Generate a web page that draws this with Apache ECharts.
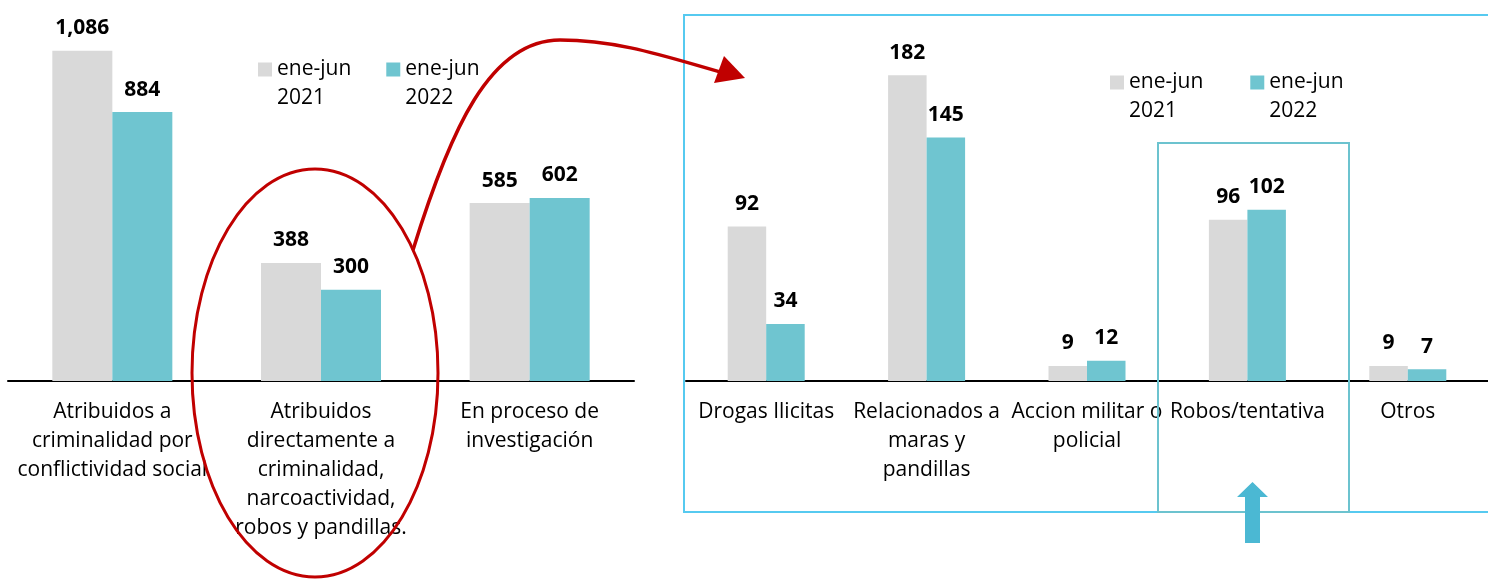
<!DOCTYPE html>
<html>
<head>
<meta charset="utf-8">
<script src="https://cdn.jsdelivr.net/npm/echarts@6/dist/echarts.min.js"></script>
<style>
  html, body { margin: 0; padding: 0; background: #fff; }
  #chart { width: 1488px; height: 579px; }
</style>
</head>
<body>
<div id="chart"></div>
<script>
// datos
const seriesNames = ["ene-jun 2021", "ene-jun 2022"];
const leftCats = [
  "Atribuidos a\ncriminalidad por\nconflictividad social",
  "Atribuidos\ndirectamente a\ncriminalidad,\nnarcoactividad,\nrobos y pandillas.",
  "En proceso de\ninvestigación"
];
const left2021 = [1086, 388, 585];
const left2022 = [884, 300, 602];

const rightCats = [
  "Drogas Ilicitas",
  "Relacionados a\nmaras y\npandillas",
  "Accion militar o\npolicial",
  "Robos/tentativa",
  "Otros"
];
const right2021 = [92, 182, 9, 96, 9];
const right2022 = [34, 145, 12, 102, 7];

const gray = "#d9d9d9";
const teal = "#6fc5d0";
const red = "#c00000";
const font = "Open Sans";

const chart = echarts.init(document.getElementById("chart"));

function valueLabel() {
  return {
    show: true,
    position: "top",
    distance: 12,
    color: "#000",
    fontFamily: font,
    fontWeight: "bold",
    fontSize: 21,
    formatter: (p) => p.value.toLocaleString("en-US")
  };
}

function catAxis(idx, cats) {
  return {
    type: "category",
    gridIndex: idx,
    data: cats,
    axisLine: { lineStyle: { color: "#000", width: 2 } },
    axisTick: { show: false },
    axisLabel: {
      interval: 0,
      margin: 17,
      color: "#000",
      fontFamily: font,
      fontSize: 21,
      lineHeight: 29
    }
  };
}

// el cuadrito queda alineado con la primera linea del texto
function legend(left, top, gap) {
  return {
    left: left,
    top: top,
    padding: 0,
    itemWidth: 14,
    itemHeight: 14,
    itemGap: gap,
    icon: "rect",
    selectedMode: false,
    data: seriesNames,
    formatter: (n) => "\n" + n.replace(" ", "\n"),
    textStyle: {
      color: "#000",
      fontFamily: font,
      fontSize: 21,
      lineHeight: 29
    }
  };
}

const option = {
  animation: false,
  color: [gray, teal],
  legend: [legend(258, 26, 35), legend(1110, 39, 47)],
  grid: [
    { left: 8, width: 626, top: 16, bottom: 198 },
    { left: 686, width: 804, top: 45, bottom: 198 }
  ],
  xAxis: [catAxis(0, leftCats), catAxis(1, rightCats)],
  yAxis: [
    { type: "value", gridIndex: 0, min: 0, max: 1200, show: false, splitLine: { show: false } },
    { type: "value", gridIndex: 1, min: 0, max: 200, show: false, splitLine: { show: false } }
  ],
  series: [
    { name: seriesNames[0], type: "bar", xAxisIndex: 0, yAxisIndex: 0, barWidth: 60, barGap: "0%", data: left2021, label: valueLabel() },
    { name: seriesNames[1], type: "bar", xAxisIndex: 0, yAxisIndex: 0, barWidth: 60, barGap: "0%", data: left2022, label: valueLabel() },
    { name: seriesNames[0], type: "bar", xAxisIndex: 1, yAxisIndex: 1, barWidth: 38.5, barGap: "0%", data: right2021, label: valueLabel() },
    { name: seriesNames[1], type: "bar", xAxisIndex: 1, yAxisIndex: 1, barWidth: 38.5, barGap: "0%", data: right2022, label: valueLabel() }
  ],
  graphic: [
    // marco del detalle
    { type: "rect", z: 100, shape: { x: 684, y: 15, width: 830, height: 497 },
      style: { fill: null, stroke: "#56caf0", lineWidth: 2 } },
    { type: "rect", z: 100, shape: { x: 1158, y: 143, width: 191, height: 369 },
      style: { fill: null, stroke: "#6cc3cf", lineWidth: 2 } },
    // elipse roja
    { type: "ellipse", z: 100, shape: { cx: 315, cy: 373, rx: 123, ry: 204 },
      style: { fill: null, stroke: red, lineWidth: 3 } },
    // flecha curva
    { type: "bezierCurve", z: 100,
      shape: { x1: 413, y1: 250, cpx1: 450, cpy1: 130, cpx2: 490, cpy2: 40, x2: 560, y2: 40 },
      style: { fill: null, stroke: red, lineWidth: 3.5 } },
    { type: "bezierCurve", z: 100,
      shape: { x1: 560, y1: 40, cpx1: 620, cpy1: 40, cpx2: 670, cpy2: 58, x2: 724, y2: 73 },
      style: { fill: null, stroke: red, lineWidth: 3.5 } },
    { type: "polygon", z: 100, shape: { points: [[745, 78], [724, 56], [714, 83]] },
      style: { fill: red } },
    // flecha azul
    { type: "polygon", z: 100,
      shape: { points: [[1252.5, 482], [1268, 497], [1260, 497], [1260, 543], [1245, 543], [1245, 497], [1237, 497]] },
      style: { fill: "#4bb8d3" } }
  ]
};

chart.setOption(option);
window.addEventListener("resize", function () {
  chart.resize();
});
</script>
</body>
</html>
